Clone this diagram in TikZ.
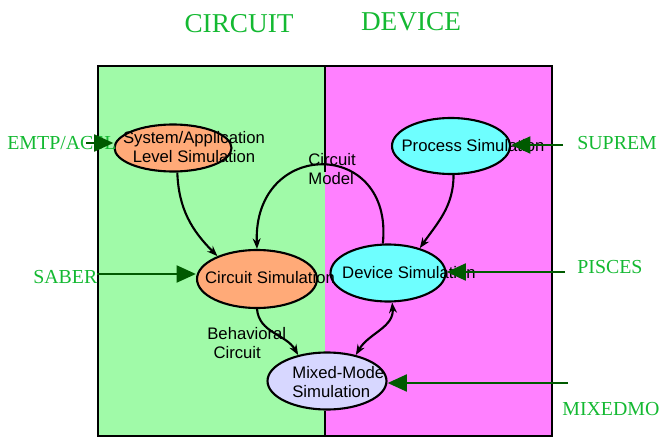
\documentclass[tikz,border=0pt]{standalone}
\usepackage{fontspec}
\setmainfont{Liberation Serif}
\setsansfont{Liberation Sans}
\usetikzlibrary{arrows.meta, shapes.geometric}
\definecolor{circuit-bg}{RGB}{160,250,168}
\definecolor{device-bg}{RGB}{255,128,255}
\definecolor{sim-salmon}{RGB}{255,170,120}
\definecolor{sim-cyan}{RGB}{110,255,255}
\definecolor{sim-lavender}{RGB}{215,215,255}
\definecolor{tool-green}{RGB}{20,185,50}
\definecolor{feed-green}{RGB}{0,90,0}

\begin{document}
\begin{tikzpicture}[x=0.02cm, y=-0.02cm,
  simbox/.style={ellipse, draw=black, line width=1.2pt, inner sep=0pt},
  simtext/.style={font=\sffamily\fontsize{9.5}{11.3}\selectfont, inner sep=0pt},
  tool/.style={text=tool-green, font=\fontsize{11.3}{13}\selectfont, inner sep=0pt, anchor=west},
  side/.style={text=tool-green, font=\fontsize{15.5}{18}\selectfont, inner sep=0pt},
  feed/.style={draw=feed-green, line width=1.7pt, -{Triangle[length=11pt,width=9.5pt]}},
  flow/.style={draw=black, line width=1.2pt, -{Stealth[length=6pt,width=4.5pt]}}]
  \useasboundingbox (0,0) rectangle (659,439);

  % halves
  \fill[circuit-bg] (98,66) rectangle (325,436);
  \fill[device-bg] (325,66) rectangle (552,436);
  \draw[line width=1.5pt] (98,66) rectangle (552,436);
  \node[side] (circuit) at (239,24) {CIRCUIT};
  \node[side] (device) at (411,22) {DEVICE};

  % simulation levels
  \node[simbox, fill=sim-salmon, minimum width=2.34cm, minimum height=0.94cm] (sys) at (173,148) {};
  \node[simbox, fill=sim-cyan, minimum width=2.36cm, minimum height=1.12cm] (proc) at (451,146) {};
  \node[simbox, fill=sim-salmon, minimum width=2.40cm, minimum height=1.16cm] (circsim) at (257,279) {};
  \node[simbox, fill=sim-cyan, minimum width=2.30cm, minimum height=1.14cm] (devsim) at (388,273) {};
  \node[simbox, fill=sim-lavender, minimum width=2.38cm, minimum height=1.14cm] (mixed) at (327,381) {};

  % divider
  \coordinate (divtop) at (325,66);
  \coordinate (divmid) at (325,172);
  \coordinate (divbot) at (325,436);
  \draw[line width=1.2pt] (divtop) -- (divmid);
  \draw[line width=1.2pt] (mixed.south -| divbot) -- (divbot);

  \node[simtext, align=center] (systext) at (194,147) {System/Application\\Level Simulation};
  \node[simtext] (proctext) at (473,146) {Process Simulation};
  \node[simtext] (circtext) at (270,278) {Circuit Simulation};
  \node[simtext] (devtext) at (409,273) {Device Simulation};
  \node[simtext, align=left, anchor=west] (mixedtext) at (292,382) {Mixed-Mode\\Simulation};
  \node[simtext, align=left, anchor=west] (modeltext) at (308,169) {Circuit\\Model};
  \node[simtext, align=left, anchor=west] (behavtext) at (207,343) {Behavioral\\\hspace{3.5pt}Circuit};

  % flows
  \draw[flow] (sys.-80) to[out=-88, in=135] (circsim.150);
  \draw[flow] (devsim.100) .. controls (394,138) and (253,138) .. (circsim.90);
  \draw[flow] (proc.-85) to[out=-90, in=55] (devsim.38);
  \draw[flow] (circsim.-90) to[out=-85, in=120] (mixed.138);
  \draw[flow, {Stealth[length=6pt,width=4.5pt]}-{Stealth[length=6pt,width=4.5pt]}] (mixed.42) to[out=60, in=-85] (devsim.-82);

  % tools
  \node[tool] (emtp) at (7,143.5) {EMTP/ACSL};
  \node[tool] (saber) at (33,277) {SABER};
  \node[tool] (suprem) at (577,143.5) {SUPREM};
  \node[tool] (pisces) at (577,267.5) {PISCES};
  \node[tool] (mixedmo) at (562,409.5) {MIXEDMO};
  \coordinate (emtpin) at (86,143);
  \coordinate (saberin) at (97,274);
  \coordinate (supremin) at (563,145);
  \coordinate (piscesin) at (565,272);
  \coordinate (mixedmoin) at (568,383);
  \draw[feed] (emtpin) -- (emtpin -| sys.west);
  \draw[feed] (saberin) -- (saberin -| circsim.west);
  \draw[feed] (supremin) -- (supremin -| proc.east);
  \draw[feed] (piscesin) -- (piscesin -| devsim.east);
  \draw[feed] (mixedmoin) -- (mixedmoin -| mixed.east);
\end{tikzpicture}
\end{document}
